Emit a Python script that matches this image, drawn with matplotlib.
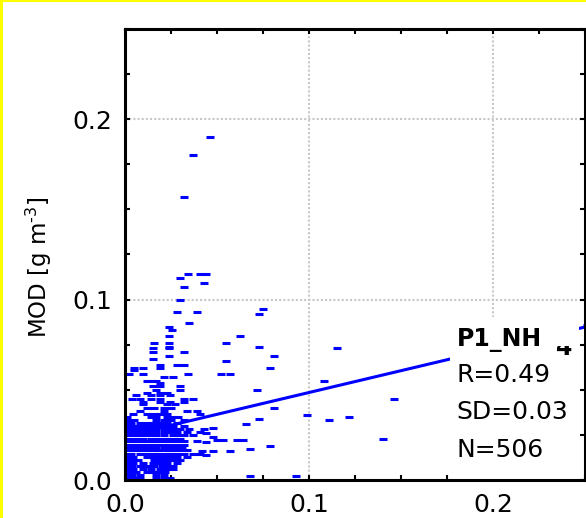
import matplotlib
matplotlib.use("Agg")
import numpy as np
import matplotlib.pyplot as plt
from matplotlib.patches import Rectangle
from matplotlib.ticker import MultipleLocator, FormatStrFormatter
from matplotlib.transforms import Bbox, TransformedBbox

plt.rcParams['font.family'] = ['DejaVu Sans']
plt.rcParams['mathtext.fontset'] = 'dejavusans'

# scattered points (observed NH4, modelled NH4), g m-3
obs_sparse = [0.046, 0.037, 0.032, 0.034, 0.041, 0.044, 0.030, 0.043, 0.032, 0.030,
              0.028, 0.039, 0.035, 0.024, 0.0255, 0.024, 0.016, 0.024, 0.024, 0.015,
              0.024, 0.032, 0.015, 0.024, 0.015, 0.019, 0.028, 0.032, 0.019, 0.005,
              0.010, 0.005, 0.002, 0.010, 0.034, 0.021, 0.026, 0.012, 0.015, 0.017,
              0.019, 0.015, 0.019, 0.030,
              0.075, 0.073, 0.0625, 0.055, 0.073, 0.081, 0.055, 0.079, 0.052, 0.057,
              0.072,
              0.081, 0.073, 0.066, 0.048, 0.043, 0.044, 0.048, 0.050, 0.053, 0.061,
              0.064, 0.044, 0.079, 0.068, 0.042, 0.048, 0.057, 0.044, 0.068,
              0.115, 0.108, 0.146, 0.099, 0.111, 0.122, 0.140, 0.093, 0.251]
mod_sparse = [0.190, 0.180, 0.157, 0.114, 0.114, 0.114, 0.112, 0.109, 0.107, 0.100,
              0.093, 0.093, 0.087, 0.085, 0.083, 0.080, 0.076, 0.076, 0.074, 0.073,
              0.073, 0.071, 0.071, 0.069, 0.067, 0.064, 0.064, 0.064, 0.062, 0.062,
              0.062, 0.061, 0.059, 0.059, 0.059, 0.057, 0.057, 0.055, 0.055, 0.055,
              0.0535, 0.052, 0.052, 0.052,
              0.095, 0.092, 0.080, 0.076, 0.074, 0.069, 0.066, 0.062, 0.059, 0.059,
              0.050,
              0.040, 0.034, 0.031, 0.029, 0.028, 0.026, 0.024, 0.022, 0.022, 0.022,
              0.022, 0.021, 0.019, 0.017, 0.016, 0.016, 0.016, 0.014, 0.002,
              0.073, 0.055, 0.045, 0.036, 0.033, 0.035, 0.023, 0.002, 0.086]

# dense cluster near the origin: one modelled level per row, observed values per row
dense_mod = [0.050, 0.0485, 0.047, 0.045, 0.043, 0.042, 0.040, 0.038, 0.0365, 0.035,
             0.033, 0.0315, 0.030, 0.0285, 0.0265, 0.025, 0.023, 0.0215, 0.0195, 0.018,
             0.0165, 0.0145, 0.013, 0.011, 0.0095, 0.008, 0.006, 0.0045, 0.0025, 0.001]
dense_obs = [
    [0.017, 0.030],
    [0.012, 0.019, 0.023],
    [0.006, 0.014, 0.019, 0.0245],
    [0.004, 0.008, 0.014, 0.019, 0.032, 0.037],
    [0.010, 0.019, 0.0245, 0.032],
    [0.010, 0.023, 0.027],
    [0.012, 0.016, 0.021, 0.025],
    [0.008, 0.021, 0.0335, 0.039],
    [0.0045, 0.012, 0.015, 0.019, 0.023, 0.041],
    [0.001, 0.014, 0.017, 0.023, 0.026, 0.029],
    [0.001, 0.005, 0.017, 0.021, 0.025, 0.032],
    [0.001, 0.003, 0.008, 0.012, 0.015, 0.019, 0.023, 0.028],
    [0.001, 0.004, 0.007, 0.010, 0.013, 0.016, 0.019, 0.023, 0.026, 0.032],
    [0.001, 0.0045, 0.008, 0.011, 0.014, 0.017, 0.021, 0.0245, 0.028, 0.030, 0.035],
    [0.001, 0.003, 0.006, 0.009, 0.012, 0.014, 0.017, 0.021, 0.0245, 0.028, 0.0335, 0.041],
    [0.001, 0.0045, 0.008, 0.012, 0.015, 0.017, 0.021, 0.026, 0.029, 0.032, 0.037],
    [0.001, 0.0045, 0.007, 0.010, 0.014, 0.017, 0.020, 0.023, 0.026, 0.030],
    [0.001, 0.0045, 0.007, 0.010, 0.013, 0.015, 0.018, 0.021, 0.0245, 0.028, 0.032, 0.039],
    [0.001, 0.003, 0.006, 0.009, 0.012, 0.015, 0.017, 0.020, 0.023, 0.026, 0.029, 0.032],
    [0.001, 0.0045, 0.008, 0.012, 0.014, 0.017, 0.021, 0.0245, 0.028, 0.031],
    [0.001, 0.004, 0.006, 0.009, 0.012, 0.015, 0.018, 0.021, 0.024, 0.026, 0.030, 0.0335],
    [0.001, 0.003, 0.008, 0.011, 0.014, 0.016, 0.019, 0.023, 0.025, 0.028, 0.032, 0.037, 0.041],
    [0.001, 0.0045, 0.012, 0.015, 0.018, 0.020, 0.023, 0.026, 0.028, 0.0335],
    [0.001, 0.0045, 0.007, 0.016, 0.019, 0.023, 0.026, 0.030],
    [0.001, 0.0045, 0.010, 0.015, 0.018, 0.021, 0.023, 0.028],
    [0.001, 0.004, 0.008, 0.012, 0.016, 0.020, 0.023, 0.026],
    [0.001, 0.0045, 0.010, 0.014, 0.019, 0.023, 0.026],
    [0.001, 0.004, 0.006, 0.012, 0.016, 0.019, 0.022],
    [0.001, 0.004, 0.008, 0.017, 0.021],
    [0.001, 0.0045, 0.008, 0.017, 0.021, 0.0245],
]

fit_intercept = 0.0243
fit_slope = 0.242
station = "P1_NH"
species_sub = "4"
stat_r = 0.49
stat_sd = 0.03
stat_n = 506

obs = obs_sparse + [x for row in dense_obs for x in row]
mod = mod_sparse + [y for y, row in zip(dense_mod, dense_obs) for _ in row]

blue = '#0000ff'

fig = plt.figure(figsize=(5.86, 5.18), dpi=100)
ax = fig.add_axes([125 / 586, 38 / 518, 460 / 586, 451 / 518])

ax.plot(obs, mod, ls='none', marker='_', ms=5.3, mew=2.2, color=blue, zorder=2.1)
xs = np.array([0.0, 0.25])
ax.plot(xs, fit_intercept + fit_slope * xs, color=blue, lw=2.2, zorder=2)

# white panel behind the statistics text
ax.add_patch(Rectangle((0.7065, 0.0), 0.28, 0.3614, transform=ax.transAxes,
                       fc='white', ec='none', zorder=2.2))

ax.set_xlim(0, 0.25)
ax.set_ylim(0, 0.25)
for axis in (ax.xaxis, ax.yaxis):
    axis.set_major_locator(MultipleLocator(0.1))
    axis.set_minor_locator(MultipleLocator(0.025))
    axis.set_major_formatter(FormatStrFormatter('%.1f'))

ax.tick_params(which='both', direction='in', top=True, right=True,
               length=3.5, width=1.5, labelsize=18)
ax.tick_params(axis='y', pad=9)
ax.tick_params(axis='x', pad=9.4)
for sp in ax.spines.values():
    sp.set_linewidth(2.2)

ax.grid(True, which='major', color='#c8c8c8', ls=(0, (1, 1)), lw=1.5)
ax.set_axisbelow(True)

ax.set_ylabel('MOD [g m$^{\u2010 3}$]', fontsize=16.5)
ax.yaxis.set_label_coords(-0.155, 0.471)

ax.text(0.721, 0.2971, station, transform=ax.transAxes, fontsize=17,
        fontweight='bold', va='baseline', zorder=3)
t4 = ax.text(0.937, 0.2772, species_sub, transform=ax.transAxes, fontsize=17,
             fontweight='bold', va='baseline', zorder=3)
t4.set_clip_box(TransformedBbox(Bbox([[0.9, 0.0], [1.0, 0.2971]]), ax.transAxes))
t4.set_clip_on(True)
ax.text(0.721, 0.2173, f"R={stat_r:.2f}", transform=ax.transAxes, fontsize=18,
        va='baseline', zorder=3)
ax.text(0.721, 0.1353, f"SD={stat_sd:.2f}", transform=ax.transAxes, fontsize=18,
        va='baseline', zorder=3)
ax.text(0.721, 0.0521, f"N={stat_n}", transform=ax.transAxes, fontsize=18,
        va='baseline', zorder=3)

# yellow frame edges of the original screenshot
fig.add_artist(Rectangle((0, 0), 3 / 586, 1, transform=fig.transFigure,
                         fc='#ffff00', ec='none'))
fig.add_artist(Rectangle((0, 1 - 2 / 518), 1, 2 / 518, transform=fig.transFigure,
                         fc='#ffff00', ec='none'))

fig.savefig('out.png', dpi=100)
